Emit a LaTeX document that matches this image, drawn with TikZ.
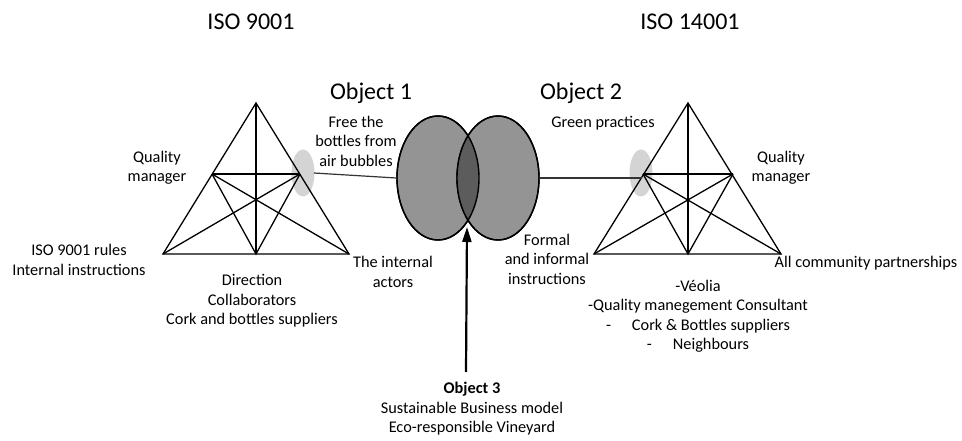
\documentclass[tikz,border=0pt]{standalone}
\usepackage{fontspec}
\setmainfont{Carlito}
\usetikzlibrary{shapes.geometric,arrows.meta}
\definecolor{bigfill}{RGB}{148,148,148}
\definecolor{overlapfill}{RGB}{92,92,92}
\definecolor{smallfill}{RGB}{212,212,212}
\tikzset{
  txt/.style={align=center,inner sep=0pt,font=\fontsize{16.3}{19.5}\selectfont},
  ttl/.style={inner sep=0pt,font=\fontsize{24}{28}\selectfont},
  tri/.style={line width=1.3pt,black},
  bigell/.style={ellipse,draw=black,line width=1.4pt,fill=bigfill,minimum width=82pt,minimum height=124pt,inner sep=0pt},
  smallell/.style={ellipse,fill=smallfill,minimum width=23pt,minimum height=47pt,inner sep=0pt},
  conn/.style={line width=1.2pt,black!80},
}
\begin{document}
\begin{tikzpicture}[x=1pt,y=-1pt]
\useasboundingbox (0,0) rectangle (962,441);
% titles
\node[ttl] (iso9) at (251,22) {ISO 9001};
\node[ttl] (iso14) at (690,22) {ISO 14001};
\node[ttl] (ob1) at (371,93) {Object 1};
\node[ttl] (ob2) at (581,93) {Object 2};
% small ellipses
\node[smallell] (s1) at (303,173) {};
\node[smallell] (s2) at (641,173) {};
% big ellipses
\node[bigell] (e1) at (438,178) {};
\node[bigell] (e2) at (498,178) {};
\begin{scope}
  \clip (438,178) ellipse [x radius=41pt,y radius=62pt];
  \fill[overlapfill] (498,178) ellipse [x radius=41pt,y radius=62pt];
\end{scope}
\draw[line width=1.4pt] (438,178) ellipse [x radius=41pt,y radius=62pt];
\draw[line width=1.4pt] (498,178) ellipse [x radius=41pt,y radius=62pt];
% left triangle
\coordinate (la) at (256,103);
\coordinate (lb) at (163,254);
\coordinate (lc) at (349,254);
\coordinate (lm) at (256,254);
\coordinate (lh1) at (212,174);
\coordinate (lh2) at (300,174);
\draw[tri,line join=miter] (la) -- (lb) -- (lc) -- cycle;
\draw[tri] (la) -- (lm);
\draw[tri] (lh1) -- (lh2);
\draw[tri] (lh1) -- (lc);
\draw[tri] (lh2) -- (lb);
\draw[tri] (lh1) -- (lm) -- (lh2);
% right triangle
\coordinate (ra) at (688,103);
\coordinate (rb) at (594,254);
\coordinate (rc) at (781,254);
\coordinate (rm) at (688,254);
\coordinate (rh1) at (643,174);
\coordinate (rh2) at (733,174);
\draw[tri,line join=miter] (ra) -- (rb) -- (rc) -- cycle;
\draw[tri] (ra) -- (rm);
\draw[tri] (rh1) -- (rh2);
\draw[tri] (rh1) -- (rc);
\draw[tri] (rh2) -- (rb);
\draw[tri] (rh1) -- (rm) -- (rh2);
% connectors
\coordinate (c1) at (314,173);
\coordinate (c2) at (642,178);
\draw[conn] (c1) -- (e1.west);
\draw[conn] (e2.east) -- (c2);
% object 3 arrow
\coordinate (ar) at (467,227);
\node[txt] (ob3) at (472,409) {\textbf{Object 3}\\Sustainable Business model\\Eco-responsible Vineyard};
\coordinate (arb) at (466,372);
\draw[line width=2.2pt,-{Triangle[length=15pt,width=9pt]}] (arb) -- (ar);
% labels left
\node[txt] (lq) at (157,167.5) {Quality\\manager};
\node[txt] (lr) at (79,260) {ISO 9001 rules\\Internal instructions};
\node[txt] (ld) at (252,301) {Direction\\Collaborators\\Cork and bottles suppliers};
\node[txt] (li) at (393,272) {The internal\\actors};
\node[txt] (lf) at (356,141) {Free the\\bottles from\\air bubbles};
% labels right
\node[txt] (rg) at (603,123) {Green practices};
\node[txt] (rq) at (781,167.5) {Quality\\manager};
\node[txt] (rf) at (547,259) {Formal\\and informal\\instructions};
\node[txt] (rp) at (866,263) {All community partnerships};
\node[txt] (rv) at (698,316) {-Véolia\\-Quality manegement Consultant\\-\hspace{21pt}Cork \& Bottles suppliers\\-\hspace{21pt}Neighbours};
\end{tikzpicture}
\end{document}
